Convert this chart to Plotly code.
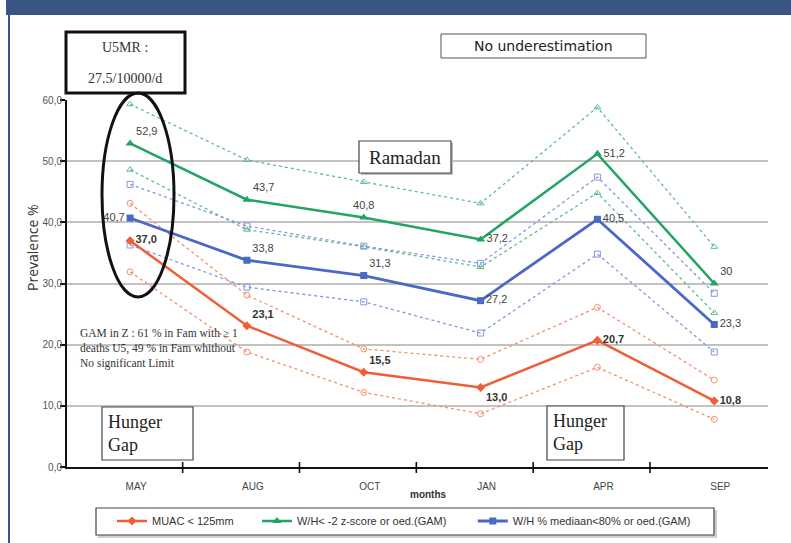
import plotly.graph_objects as go

# ---- data -------------------------------------------------------------
months = ["MAY", "AUG", "OCT", "JAN", "APR", "SEP"]

muac = [37.0, 23.1, 15.5, 13.0, 20.7, 10.8]
muac_hi = [43.1, 28.1, 19.3, 17.6, 26.1, 14.2]
muac_lo = [31.9, 18.8, 12.2, 8.7, 16.3, 7.8]
muac_labels = ["37,0", "23,1", "15,5", "13,0", "20,7", "10,8"]

whz = [52.9, 43.7, 40.8, 37.2, 51.2, 30]
whz_hi = [59.3, 50.2, 46.6, 43.1, 58.8, 36.0]
whz_lo = [48.6, 38.8, 36.0, 32.7, 44.8, 25.2]
whz_labels = ["52,9", "43,7", "40,8", "37,2", "51,2", "30"]

whm = [40.7, 33.8, 31.3, 27.2, 40.5, 23.3]
whm_hi = [46.2, 39.4, 36.1, 33.3, 47.4, 28.4]
whm_lo = [36.3, 29.4, 27.0, 21.9, 34.8, 18.8]
whm_labels = ["40,7", "33,8", "31,3", "27,2", "40,5", "23,3"]

y_ticks = [0, 10, 20, 30, 40, 50, 60]

# ---- page geometry helpers (pixel -> paper) ---------------------------
W, H = 791, 543
L, R, T, B = 67, 768, 100, 467


def px(x):
    return (x - L) / (R - L)


def py(y):
    return (B - y) / (B - T)


RED, RED_L = "#ef5f37", "#f4906c"
GREEN, GREEN_L = "#22a464", "#5cbf8a"
BLUE, BLUE_L = "#4a68c6", "#8696de"
NBSP = "\u00a0"

xs = list(range(len(months)))
fig = go.Figure()


def band(vals, color, symbol):
    fig.add_trace(go.Scatter(
        x=xs, y=vals, mode="lines+markers", showlegend=False,
        line=dict(color=color, width=1.3, dash="dot"),
        marker=dict(symbol=symbol, size=6, color=color, line=dict(width=1)),
        cliponaxis=False, hoverinfo="skip"))


band(whz_hi, GREEN_L, "triangle-up-open")
band(whz_lo, GREEN_L, "triangle-up-open")
band(whm_hi, BLUE_L, "square-open")
band(whm_lo, BLUE_L, "square-open")
band(muac_hi, RED_L, "circle-open")
band(muac_lo, RED_L, "circle-open")

fig.add_trace(go.Scatter(
    x=xs, y=muac, name="MUAC < 125mm" + NBSP * 6, mode="lines+markers+text",
    line=dict(color=RED, width=2.5),
    marker=dict(symbol="diamond", size=7, color=RED),
    text=[f"<b>{t}</b>" for t in muac_labels],
    textposition=["middle right", "top right", "top right",
                  "bottom right", "middle right", "middle right"],
    textfont=dict(family="Arial, Liberation Sans", size=11, color="#333"),
    cliponaxis=False))

fig.add_trace(go.Scatter(
    x=xs, y=whz, name="W/H< -2 z-score or oed.(GAM)" + NBSP * 7,
    mode="lines+markers+text",
    line=dict(color=GREEN, width=2.5),
    marker=dict(symbol="triangle-up", size=8, color=GREEN),
    text=whz_labels,
    textposition=["top right", "top right", "top center",
                  "middle right", "middle right", "top right"],
    textfont=dict(family="Arial, Liberation Sans", size=11, color="#444"),
    cliponaxis=False))

fig.add_trace(go.Scatter(
    x=xs, y=whm, name="W/H % mediaan<80% or oed.(GAM)", mode="lines+markers+text",
    line=dict(color=BLUE, width=2.8),
    marker=dict(symbol="square", size=7, color=BLUE),
    text=whm_labels,
    textposition=["middle left", "top right", "top right",
                  "middle right", "middle right", "middle right"],
    textfont=dict(family="Arial, Liberation Sans", size=11, color="#444"),
    cliponaxis=False))

shapes = []
# header banner and frame edge
shapes.append(dict(type="rect", xref="paper", yref="paper",
                   x0=px(6), x1=px(795), y0=py(15), y1=py(-2),
                   fillcolor="#3a5584", line=dict(width=0), layer="above"))
shapes.append(dict(type="line", xref="paper", yref="paper",
                   x0=px(9), x1=px(9), y0=py(15), y1=py(545),
                   line=dict(color="#3a5584", width=2)))
# cross ticks between month groups
for i in range(len(months) - 1):
    shapes.append(dict(type="line", xref="x", yref="paper",
                       x0=i + 0.45, x1=i + 0.45, y0=py(462), y1=py(473),
                       line=dict(color="#111", width=1.6)))
# legend frame with a soft shadow
shapes.append(dict(type="rect", xref="paper", yref="paper",
                   x0=px(98), x1=px(717), y0=py(538), y1=py(510),
                   fillcolor="#cfcfcf", line=dict(width=0)))
shapes.append(dict(type="rect", xref="paper", yref="paper",
                   x0=px(96), x1=px(714), y0=py(535), y1=py(508),
                   fillcolor="white", line=dict(color="#444", width=1.2)))
# text boxes
shapes.append(dict(type="rect", xref="paper", yref="paper",
                   x0=px(66), x1=px(185), y0=py(93), y1=py(32),
                   line=dict(color="#111", width=3)))
shapes.append(dict(type="circle", xref="paper", yref="paper",
                   x0=px(102), x1=px(174), y0=py(297), y1=py(93),
                   line=dict(color="#111", width=3)))
shapes.append(dict(type="rect", xref="paper", yref="paper",
                   x0=px(441), x1=px(646), y0=py(58), y1=py(34),
                   line=dict(color="#555", width=1)))
shapes.append(dict(type="rect", xref="paper", yref="paper",
                   x0=px(361), x1=px(453), y0=py(175), y1=py(143),
                   fillcolor="#bdbdbd", line=dict(width=0)))
shapes.append(dict(type="rect", xref="paper", yref="paper",
                   x0=px(359), x1=px(451), y0=py(173), y1=py(141),
                   fillcolor="white", line=dict(color="#444", width=1.2)))
shapes.append(dict(type="rect", xref="paper", yref="paper",
                   x0=px(102), x1=px(193), y0=py(460), y1=py(407),
                   fillcolor="white", line=dict(color="#444", width=1.2)))
shapes.append(dict(type="rect", xref="paper", yref="paper",
                   x0=px(547), x1=px(624), y0=py(460), y1=py(406),
                   fillcolor="white", line=dict(color="#444", width=1.2)))

serif = "Liberation Serif, Times New Roman, serif"
ann = []
ann.append(dict(text="U5MR :", x=px(125), y=py(48), showarrow=False,
                font=dict(family=serif, size=14, color="#333")))
ann.append(dict(text="27.5/10000/d", x=px(125), y=py(78), showarrow=False,
                font=dict(family=serif, size=14, color="#333")))
ann.append(dict(text="No underestimation", x=px(543), y=py(46), showarrow=False,
                font=dict(family="DejaVu Sans", size=14, color="#222")))
ann.append(dict(text="Ramadan", x=px(405), y=py(157), showarrow=False,
                font=dict(family=serif, size=19, color="#222")))
ann.append(dict(text="Hunger<br>Gap", x=px(106), y=py(410), xanchor="left",
                yanchor="top", align="left", showarrow=False,
                font=dict(family=serif, size=18, color="#222")))
ann.append(dict(text="Hunger<br>Gap", x=px(551), y=py(409), xanchor="left",
                yanchor="top", align="left", showarrow=False,
                font=dict(family=serif, size=18, color="#222")))
ann.append(dict(text="GAM in Z : 61 % in Fam with ≥ 1<br>"
                     "deaths U5, 49 % in Fam whithout<br>"
                     "No significant Limit",
                x=px(78), y=py(325), xanchor="left", yanchor="top",
                align="left", showarrow=False,
                font=dict(family=serif, size=11.5, color="#333")))
ann.append(dict(text="Prevalence %", x=px(33), y=py(248), textangle=-90,
                showarrow=False,
                font=dict(family="Open Sans", size=14, color="#333")))
ann.append(dict(text="<b>months</b>", x=px(428), y=py(494), showarrow=False,
                font=dict(family="Arial, Liberation Sans", size=10, color="#333")))
for a in ann:
    a.setdefault("xref", "paper")
    a.setdefault("yref", "paper")
    a.setdefault("xanchor", "center")
    a.setdefault("yanchor", "middle")

fig.update_layout(
    width=W, height=H,
    margin=dict(l=L, r=W - R, t=T, b=H - B, pad=0, autoexpand=False),
    paper_bgcolor="white", plot_bgcolor="white",
    separators=",.",
    shapes=shapes, annotations=ann,
    legend=dict(orientation="h", x=px(112), y=py(521), xanchor="left",
                yanchor="middle", borderwidth=0, bgcolor="rgba(0,0,0,0)",
                itemwidth=30, tracegroupgap=0,
                font=dict(family="Arial, Liberation Sans", size=11, color="#333")),
    xaxis=dict(range=[-0.54, 5.46], tickvals=xs, ticktext=months,
               showgrid=False, zeroline=False, showline=True,
               linecolor="#111", linewidth=2, ticks="",
               ticklabelstandoff=9, ticklabelshift=6,
               tickfont=dict(family="Arial, Liberation Sans", size=10, color="#444")),
    yaxis=dict(range=[0, 60], tickvals=y_ticks, tickformat=".1f",
               showgrid=True, gridcolor="#c2c2c2", gridwidth=2,
               zeroline=False, showline=True, linecolor="#111", linewidth=2,
               ticks="outside", ticklen=5, tickwidth=2, tickcolor="#111",
               ticklabelstandoff=-4,
               tickfont=dict(family="Arial, Liberation Sans", size=10, color="#555")),
)

fig.write_html("out.html")
